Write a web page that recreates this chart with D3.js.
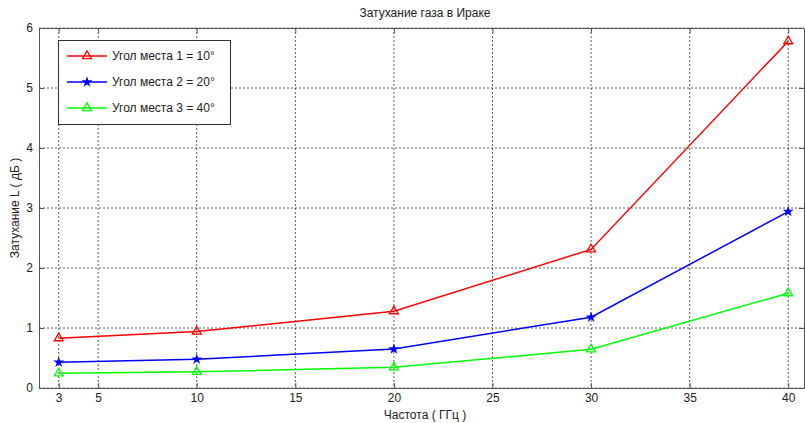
<!DOCTYPE html>
<html><head><meta charset="utf-8">
<script src="https://cdn.jsdelivr.net/npm/d3@7"></script>
<style>body{margin:0;background:#fff}svg{display:block;font-family:"Liberation Sans",Arial,sans-serif}</style>
</head><body><svg id="c" width="805" height="423"></svg>
<script>
const freqs = [3, 10, 20, 30, 40];
const s1 = [0.83, 0.94, 1.28, 2.31, 5.78];
const s2 = [0.43, 0.48, 0.65, 1.18, 2.94];
const s3 = [0.245, 0.27, 0.345, 0.645, 1.58];
const xTicks = [3, 5, 10, 15, 20, 25, 30, 35, 40];
const yTicks = [0, 1, 2, 3, 4, 5, 6];
const names = ["Угол места 1 = 10°", "Угол места 2 = 20°", "Угол места 3 = 40°"];
const colors = ["#ff0000", "#0000ff", "#00ff00"];
const markers = ["tri", "star", "tri"];
const title = "Затухание газа в Ираке";
const xLabel = "Частота ( ГГц )";
const yLabel = "Затухание L ( дБ )";

const svg = d3.select("#c");
const L = 39, R = 804, T = 28, B = 388;
const x = d3.scaleLinear().domain([2, 40.8]).range([L, R]);
const y = d3.scaleLinear().domain([0, 6]).range([B, T]);

// grid
const g = svg.append("g");
g.selectAll(".gx").data(xTicks).join("line")
  .attr("x1", d => x(d)).attr("x2", d => x(d)).attr("y1", T).attr("y2", B)
  .attr("stroke", "#000").attr("stroke-width", 0.8).attr("stroke-dasharray", "2,2").attr("opacity", 0.8);
g.selectAll(".gy").data(yTicks).join("line")
  .attr("y1", d => y(d)).attr("y2", d => y(d)).attr("x1", L).attr("x2", R)
  .attr("stroke", "#000").attr("stroke-width", 0.8).attr("stroke-dasharray", "2,2").attr("opacity", 0.8);

// axes
const ax = svg.append("g").attr("transform", `translate(0,${B})`)
  .call(d3.axisBottom(x).tickValues(xTicks).tickFormat(d3.format("d")).tickSize(-5).tickPadding(5).tickSizeOuter(0));
const axT = svg.append("g").attr("transform", `translate(0,${T})`)
  .call(d3.axisTop(x).tickValues(xTicks).tickSize(-5).tickFormat("").tickSizeOuter(0));
const ay = svg.append("g").attr("transform", `translate(${L},0)`)
  .call(d3.axisLeft(y).tickValues(yTicks).tickFormat(d3.format("d")).tickSize(-5).tickPadding(6).tickSizeOuter(0));
const ayR = svg.append("g").attr("transform", `translate(${R},0)`)
  .call(d3.axisRight(y).tickValues(yTicks).tickSize(-5).tickFormat("").tickSizeOuter(0));
[ax, axT, ay, ayR].forEach(a => {
  a.select(".domain").attr("stroke", "#555");
  a.selectAll(".tick line").attr("stroke", "#555");
  a.selectAll("text").attr("fill", "#222").style("font-size", "12px").style("font-family", '"Liberation Sans",Arial,sans-serif');
});

// lines
const series = [s1, s2, s3];
const line = d3.line().x(d => x(d[0])).y(d => y(d[1]));
function drawMarker(sel, type, color) {
  if (type === "tri") {
    sel.append("path").attr("d", d3.symbol(d3.symbolTriangle, 34)())
      .attr("fill", "none").attr("stroke", color).attr("stroke-width", 1.3);
  } else {
    sel.append("path").attr("d", d3.symbol(d3.symbolStar, 14)())
      .attr("fill", color).attr("stroke", color).attr("stroke-width", 1.4);
  }
}
series.forEach((s, i) => {
  const pts = freqs.map((f, j) => [f, s[j]]);
  svg.append("path").attr("d", line(pts)).attr("fill", "none")
    .attr("stroke", colors[i]).attr("stroke-width", 1.5);
  pts.forEach(p => {
    const m = svg.append("g").attr("transform", `translate(${x(p[0])},${y(p[1])})`);
    drawMarker(m, markers[i], colors[i]);
  });
});

// legend
const lg = svg.append("g");
lg.append("rect").attr("x", 58.5).attr("y", 40.5).attr("width", 172).attr("height", 84)
  .attr("fill", "#fff").attr("stroke", "#333").attr("stroke-width", 1);
names.forEach((n, i) => {
  const yy = 56 + i * 26;
  lg.append("line").attr("x1", 67).attr("x2", 107).attr("y1", yy).attr("y2", yy)
    .attr("stroke", colors[i]).attr("stroke-width", 1.5);
  const m = lg.append("g").attr("transform", `translate(87,${yy})`);
  drawMarker(m, markers[i], colors[i]);
  lg.append("text").attr("x", 112).attr("y", yy + 4).text(n)
    .attr("fill", "#222").style("font-size", "12px");
});

// labels
svg.append("text").attr("x", 425).attr("y", 17).attr("text-anchor", "middle")
  .attr("fill", "#222").style("font-size", "12px").text(title);
svg.append("text").attr("x", 425).attr("y", 419).attr("text-anchor", "middle")
  .attr("fill", "#222").style("font-size", "12px").text(xLabel);
svg.append("text").attr("transform", "translate(19,208) rotate(-90)").attr("text-anchor", "middle")
  .attr("fill", "#222").style("font-size", "12px").text(yLabel);
</script></body></html>
